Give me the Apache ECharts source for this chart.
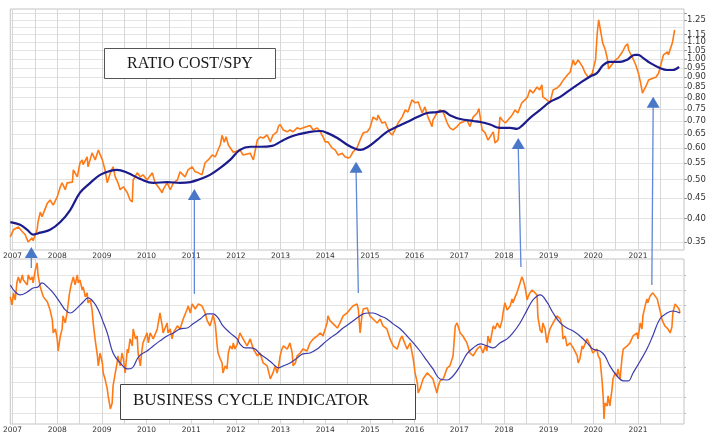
<!DOCTYPE html>
<html><head><meta charset="utf-8">
<script src="https://cdn.jsdelivr.net/npm/echarts@6/dist/echarts.min.js"></script>
<style>html,body{margin:0;padding:0;background:#fff}#c{width:720px;height:446px}</style>
</head><body><div id="c"></div>
<script>
// ---- Top panel: COST/SPY ratio (daily, orange) ----
const ratioYears=[2006.95,2007.02,2007.13,2007.22,2007.28,2007.35,2007.44,2007.46,2007.55,2007.57,2007.62,2007.66,2007.69,2007.78,2007.84,2007.91,2008.00,2008.07,2008.11,2008.18,2008.22,2008.34,2008.36,2008.45,2008.51,2008.56,2008.58,2008.67,2008.69,2008.78,2008.85,2008.92,2009.01,2009.07,2009.12,2009.19,2009.25,2009.30,2009.36,2009.41,2009.48,2009.57,2009.63,2009.68,2009.70,2009.79,2009.86,2009.92,2010.01,2010.13,2010.19,2010.26,2010.35,2010.37,2010.46,2010.53,2010.60,2010.69,2010.75,2010.86,2010.93,2011.02,2011.09,2011.16,2011.24,2011.31,2011.38,2011.47,2011.54,2011.60,2011.65,2011.69,2011.74,2011.78,2011.83,2011.94,2012.09,2012.16,2012.32,2012.39,2012.48,2012.54,2012.61,2012.70,2012.77,2012.83,2012.92,2012.95,2012.99,2013.06,2013.15,2013.21,2013.28,2013.37,2013.44,2013.50,2013.59,2013.66,2013.73,2013.82,2013.89,2013.95,2014.00,2014.06,2014.15,2014.22,2014.29,2014.38,2014.44,2014.51,2014.56,2014.62,2014.71,2014.78,2014.85,2014.94,2015.00,2015.07,2015.16,2015.18,2015.27,2015.34,2015.38,2015.45,2015.50,2015.56,2015.63,2015.72,2015.79,2015.85,2015.94,2016.01,2016.08,2016.12,2016.17,2016.23,2016.30,2016.39,2016.41,2016.50,2016.57,2016.64,2016.73,2016.79,2016.86,2016.95,2017.02,2017.08,2017.17,2017.24,2017.31,2017.40,2017.44,2017.47,2017.51,2017.58,2017.64,2017.69,2017.76,2017.80,2017.87,2017.91,2017.96,2018.03,2018.09,2018.18,2018.25,2018.31,2018.40,2018.47,2018.53,2018.58,2018.65,2018.74,2018.80,2018.85,2018.87,2018.96,2019.03,2019.10,2019.19,2019.26,2019.33,2019.42,2019.48,2019.55,2019.59,2019.66,2019.76,2019.82,2019.89,2019.98,2020.01,2020.05,2020.09,2020.12,2020.16,2020.21,2020.27,2020.32,2020.34,2020.43,2020.50,2020.56,2020.65,2020.72,2020.77,2020.79,2020.88,2020.95,2021.01,2021.06,2021.10,2021.13,2021.17,2021.24,2021.33,2021.40,2021.46,2021.51,2021.57,2021.66,2021.68,2021.77,2021.82];
const ratioValues=[0.360,0.375,0.381,0.371,0.365,0.350,0.358,0.352,0.375,0.392,0.415,0.404,0.412,0.437,0.445,0.432,0.453,0.480,0.491,0.472,0.491,0.493,0.529,0.508,0.551,0.560,0.545,0.570,0.538,0.583,0.560,0.593,0.560,0.529,0.491,0.520,0.538,0.508,0.491,0.472,0.480,0.464,0.445,0.440,0.499,0.520,0.508,0.514,0.499,0.520,0.491,0.480,0.464,0.472,0.491,0.472,0.491,0.499,0.523,0.508,0.529,0.538,0.523,0.520,0.514,0.551,0.560,0.576,0.570,0.593,0.610,0.645,0.620,0.640,0.610,0.585,0.593,0.576,0.582,0.560,0.628,0.639,0.635,0.646,0.621,0.646,0.658,0.678,0.686,0.665,0.658,0.665,0.658,0.673,0.669,0.673,0.678,0.682,0.665,0.673,0.658,0.639,0.621,0.621,0.600,0.593,0.576,0.582,0.570,0.566,0.570,0.586,0.600,0.628,0.654,0.658,0.673,0.716,0.704,0.724,0.692,0.696,0.678,0.654,0.646,0.665,0.692,0.716,0.746,0.737,0.790,0.777,0.781,0.759,0.733,0.759,0.716,0.678,0.704,0.733,0.746,0.737,0.692,0.673,0.665,0.678,0.692,0.696,0.704,0.678,0.716,0.733,0.752,0.746,0.665,0.654,0.628,0.639,0.658,0.617,0.628,0.716,0.704,0.692,0.704,0.724,0.746,0.733,0.777,0.790,0.804,0.837,0.822,0.851,0.837,0.861,0.804,0.790,0.777,0.837,0.846,0.861,0.886,0.912,0.926,0.994,0.965,0.994,0.955,0.921,0.900,0.921,0.955,0.994,1.165,1.250,1.180,1.096,1.052,0.994,0.944,0.972,0.994,1.006,1.040,1.077,1.090,1.052,1.006,0.965,0.921,0.870,0.822,0.813,0.851,0.886,0.895,0.900,0.921,0.965,1.023,1.040,1.023,1.096,1.180];
// moving average (navy)
const ratioMaYears=[2006.95,2007.17,2007.33,2007.46,2007.62,2007.84,2008.07,2008.29,2008.51,2008.74,2008.96,2009.19,2009.34,2009.57,2009.86,2010.15,2010.46,2010.75,2010.98,2011.20,2011.42,2011.65,2011.87,2012.09,2012.32,2012.54,2012.81,2012.99,2013.21,2013.44,2013.66,2013.89,2014.04,2014.27,2014.49,2014.67,2014.78,2014.96,2015.16,2015.38,2015.61,2015.83,2016.06,2016.28,2016.50,2016.64,2016.79,2017.02,2017.31,2017.47,2017.69,2017.91,2018.14,2018.29,2018.43,2018.58,2018.81,2019.03,2019.26,2019.48,2019.70,2019.93,2020.08,2020.22,2020.37,2020.60,2020.75,2020.93,2021.00,2021.11,2021.27,2021.49,2021.65,2021.78,2021.92];
const ratioMaValues=[0.392,0.386,0.375,0.365,0.369,0.375,0.392,0.420,0.464,0.491,0.514,0.526,0.529,0.520,0.502,0.491,0.493,0.491,0.493,0.502,0.514,0.535,0.560,0.593,0.604,0.604,0.607,0.621,0.639,0.650,0.658,0.661,0.654,0.635,0.611,0.597,0.593,0.604,0.628,0.658,0.678,0.696,0.716,0.733,0.737,0.741,0.724,0.708,0.700,0.696,0.686,0.673,0.673,0.669,0.686,0.712,0.746,0.781,0.804,0.837,0.870,0.904,0.921,0.965,0.983,0.983,0.994,1.023,1.023,1.006,0.977,0.949,0.938,0.938,0.955];

// ---- Bottom panel: business cycle indicator (grid units) ----
const bciYears=[2006.95,2006.99,2007.02,2007.06,2007.10,2007.13,2007.17,2007.22,2007.24,2007.33,2007.35,2007.40,2007.44,2007.46,2007.51,2007.55,2007.57,2007.62,2007.69,2007.78,2007.84,2007.89,2007.91,2007.96,2008.00,2008.02,2008.07,2008.11,2008.13,2008.18,2008.22,2008.27,2008.31,2008.36,2008.40,2008.45,2008.47,2008.51,2008.56,2008.58,2008.63,2008.67,2008.69,2008.74,2008.78,2008.81,2008.85,2008.90,2008.92,2008.96,2009.01,2009.03,2009.07,2009.12,2009.14,2009.19,2009.23,2009.25,2009.30,2009.34,2009.36,2009.41,2009.45,2009.48,2009.52,2009.57,2009.59,2009.63,2009.68,2009.70,2009.75,2009.79,2009.81,2009.86,2009.90,2009.92,2010.01,2010.04,2010.08,2010.15,2010.24,2010.30,2010.35,2010.37,2010.46,2010.48,2010.53,2010.57,2010.60,2010.69,2010.75,2010.82,2010.91,2010.93,2010.98,2011.02,2011.09,2011.16,2011.24,2011.31,2011.36,2011.38,2011.42,2011.49,2011.54,2011.58,2011.60,2011.65,2011.69,2011.71,2011.76,2011.80,2011.83,2011.87,2011.92,2011.94,2011.98,2012.03,2012.09,2012.16,2012.25,2012.32,2012.39,2012.48,2012.54,2012.61,2012.70,2012.77,2012.83,2012.88,2012.92,2012.95,2012.99,2013.03,2013.06,2013.15,2013.21,2013.26,2013.28,2013.33,2013.37,2013.44,2013.50,2013.59,2013.66,2013.73,2013.82,2013.89,2013.95,2014.04,2014.06,2014.11,2014.18,2014.27,2014.33,2014.40,2014.49,2014.56,2014.62,2014.71,2014.74,2014.78,2014.82,2014.85,2014.94,2015.00,2015.07,2015.16,2015.23,2015.29,2015.38,2015.45,2015.52,2015.61,2015.68,2015.72,2015.74,2015.83,2015.90,2015.97,2016.01,2016.06,2016.08,2016.12,2016.19,2016.28,2016.35,2016.41,2016.50,2016.53,2016.57,2016.64,2016.73,2016.79,2016.86,2016.91,2016.95,2017.02,2017.08,2017.17,2017.24,2017.31,2017.40,2017.47,2017.53,2017.58,2017.62,2017.64,2017.69,2017.76,2017.80,2017.85,2017.91,2017.96,2017.98,2018.02,2018.07,2018.14,2018.18,2018.20,2018.25,2018.29,2018.31,2018.36,2018.40,2018.43,2018.47,2018.52,2018.54,2018.58,2018.63,2018.65,2018.74,2018.76,2018.81,2018.85,2018.87,2018.92,2018.96,2018.99,2019.03,2019.10,2019.19,2019.26,2019.30,2019.32,2019.37,2019.41,2019.48,2019.55,2019.64,2019.66,2019.70,2019.75,2019.77,2019.86,2019.93,2019.99,2020.08,2020.11,2020.15,2020.20,2020.22,2020.24,2020.26,2020.31,2020.33,2020.37,2020.42,2020.44,2020.49,2020.53,2020.55,2020.60,2020.64,2020.67,2020.76,2020.82,2020.89,2020.98,2021.00,2021.05,2021.09,2021.11,2021.16,2021.20,2021.22,2021.27,2021.33,2021.43,2021.49,2021.54,2021.60,2021.67,2021.72,2021.76,2021.78,2021.83,2021.87,2021.92,2021.94];
const bciValues=[8.57,8.04,8.83,8.37,9.55,9.87,9.48,10.00,9.68,9.35,10.00,9.68,9.87,9.48,10.33,10.78,10.00,9.22,8.57,8.24,7.72,7.07,6.22,6.48,5.83,5.04,6.02,6.48,7.33,6.87,7.52,8.70,9.35,9.87,9.35,10.00,9.48,9.68,9.02,9.22,8.57,8.83,8.18,8.37,7.72,6.74,5.76,4.72,4.07,4.91,4.26,3.61,3.22,2.57,2.11,1.26,1.65,2.76,3.61,4.26,4.72,4.07,4.91,4.52,3.61,5.17,4.91,5.83,5.37,6.48,5.83,6.02,4.91,4.07,5.17,5.57,6.22,5.57,6.22,5.83,6.48,7.52,6.68,6.22,6.87,6.22,6.48,5.83,6.22,6.68,6.48,7.13,7.78,7.98,7.52,8.11,7.78,8.11,7.98,7.52,7.00,7.13,6.68,7.39,6.74,5.37,4.91,4.52,4.26,3.61,4.07,3.87,4.91,5.37,5.17,5.57,5.17,5.50,6.22,5.83,5.37,5.83,5.17,4.72,4.91,4.26,4.07,3.22,3.61,4.07,3.61,3.94,4.72,5.17,5.37,5.17,5.57,4.91,4.07,4.26,4.72,4.91,5.17,5.04,5.57,5.83,6.02,6.22,6.02,6.87,7.33,7.00,6.81,6.54,6.87,7.33,7.52,7.78,7.98,8.11,7.78,6.22,7.33,7.78,7.85,7.33,7.13,6.87,7.13,6.68,6.48,5.83,5.37,5.17,5.83,6.02,5.83,5.17,5.57,4.52,3.61,2.96,2.30,2.57,3.22,3.61,3.41,3.22,2.30,2.76,3.09,3.22,3.94,4.07,4.72,6.68,6.87,6.22,6.02,5.57,4.91,4.72,5.17,5.37,4.91,5.37,5.04,6.02,5.57,6.68,6.48,6.87,6.54,7.07,7.52,8.18,7.72,7.98,8.44,8.18,8.57,8.83,9.02,9.48,9.87,9.68,9.22,8.37,8.57,8.83,9.02,8.89,8.70,7.26,6.41,6.22,6.87,6.48,5.57,6.02,6.48,6.87,7.33,7.13,6.68,5.83,6.02,5.37,5.57,5.24,4.72,4.26,4.52,5.37,5.17,5.83,5.37,4.91,5.17,4.72,4.52,2.96,2.11,0.61,1.65,1.46,2.11,1.46,2.57,3.22,3.61,3.41,3.87,3.22,4.52,5.17,5.37,5.57,6.02,6.22,5.83,6.87,6.48,7.33,7.98,8.44,8.18,8.63,8.83,8.44,7.72,7.07,6.68,6.48,6.22,6.61,7.52,8.11,8.18,7.78,7.52];
const bciMaYears=[2006.95,2007.06,2007.17,2007.33,2007.46,2007.57,2007.66,2007.78,2007.91,2008.07,2008.18,2008.29,2008.45,2008.58,2008.69,2008.81,2008.92,2009.01,2009.12,2009.25,2009.41,2009.57,2009.68,2009.79,2009.86,2010.01,2010.15,2010.30,2010.46,2010.60,2010.75,2010.91,2011.04,2011.20,2011.36,2011.49,2011.60,2011.71,2011.87,2012.03,2012.09,2012.21,2012.32,2012.43,2012.54,2012.70,2012.83,2012.95,2013.06,2013.21,2013.37,2013.50,2013.66,2013.82,2013.95,2014.11,2014.27,2014.40,2014.56,2014.71,2014.85,2014.96,2015.07,2015.23,2015.38,2015.52,2015.68,2015.83,2015.97,2016.12,2016.28,2016.41,2016.57,2016.73,2016.86,2017.02,2017.17,2017.31,2017.47,2017.62,2017.76,2017.91,2018.07,2018.20,2018.36,2018.52,2018.65,2018.81,2018.96,2019.10,2019.26,2019.41,2019.55,2019.70,2019.86,2019.99,2020.15,2020.26,2020.37,2020.53,2020.67,2020.78,2020.89,2021.05,2021.20,2021.33,2021.49,2021.65,2021.78,2021.94];
const bciMaValues=[9.35,8.89,8.70,8.89,9.15,9.22,9.48,9.22,8.83,8.18,7.72,7.52,7.85,8.24,8.50,8.24,7.72,7.07,6.22,4.91,4.26,3.87,3.94,4.52,4.78,5.04,5.37,5.70,6.02,6.22,6.48,6.54,6.81,7.13,7.46,7.46,7.20,6.68,6.22,5.83,5.50,5.24,5.24,5.17,4.85,4.52,4.20,3.94,4.07,4.26,4.59,4.85,4.91,5.17,5.50,5.89,6.22,6.54,6.87,7.20,7.46,7.52,7.52,7.33,7.13,6.81,6.48,6.02,5.57,5.04,4.39,3.87,3.22,3.15,3.41,4.07,4.85,5.24,5.50,5.37,5.24,5.57,5.83,6.22,6.87,7.72,8.37,8.70,8.24,7.52,6.87,6.54,6.35,6.02,5.57,5.17,5.04,4.72,4.07,3.41,3.09,3.09,3.61,4.39,5.17,6.02,7.13,7.52,7.65,7.52];

// ---- axis ticks / labels ----
const yearLabels=[2007,2008,2009,2010,2011,2012,2013,2014,2015,2016,2017,2018,2019,2020,2021];
const halfYearLines=[2007,2007.5,2008,2008.5,2009,2009.5,2010,2010.5,2011,2011.5,2012,2012.5,2013,2013.5,2014,2014.5,2015,2015.5,2016,2016.5,2017,2017.5,2018,2018.5,2019,2019.5,2020,2020.5,2021,2021.5];
const ratioLabels=[0.35,0.40,0.45,0.50,0.55,0.60,0.65,0.70,0.75,0.80,0.85,0.90,0.95,1.00,1.05,1.10,1.15,1.20,1.25];
const ratioLines=[0.35,0.40,0.45,0.50,0.55,0.60,0.65,0.70,0.75,0.80,0.85,0.90,0.95,1.00,1.05,1.10,1.15,1.20,1.25,1.30];
const bciLines=[1,2,3,4,5,6,7,8,9,10];

// arrows: [year, ratio value at tip (top panel), year at foot, indicator value at foot]
const arrowYears=[2007.42,2011.07,2014.69,2018.32,2021.34];
const arrowTipRatio=[0.340,0.474,0.554,0.635,0.804];
const arrowFootYears=[2007.42,2011.07,2014.74,2018.38,2021.31];
const arrowFootBci=[10.46,8.76,8.83,10.52,9.35];

const zip=(a,b)=>a.map((v,i)=>[v,b[i]]);
const chart=echarts.init(document.getElementById('c'),null,{renderer:'canvas'});
const lblFont='DejaVu Sans';
function xAxisCfg(idx){
  return {type:'value',gridIndex:idx,min:2006.95,max:2022.03,
    axisLine:{show:false},
    axisTick:{show:false,customValues:halfYearLines},
    splitLine:{show:true,lineStyle:{color:'#d6d6d6',width:1}},
    axisLabel:{customValues:yearLabels,formatter:v=>String(Math.round(v)),fontFamily:lblFont,fontSize:7.5,color:'#333',margin:2}};
}
chart.setOption({
  animation:false,
  backgroundColor:'#fff',
  grid:[
    {left:10,right:36,top:9,height:241,show:true,borderColor:'#c4c4c4',borderWidth:1,backgroundColor:'#fff'},
    {left:10,right:36,top:259,height:165,show:true,borderColor:'#c4c4c4',borderWidth:1,backgroundColor:'#fff'}
  ],
  xAxis:[xAxisCfg(0),xAxisCfg(1)],
  yAxis:[
    {type:'log',gridIndex:0,position:'right',min:0.334,max:1.331,
      axisLine:{show:false},
      axisTick:{show:true,customValues:ratioLines,length:3,lineStyle:{color:'#999'}},
      splitLine:{show:true,lineStyle:{color:'#e4e4e4'}},
      axisLabel:{customValues:ratioLabels,formatter:v=>v.toFixed(2),fontFamily:lblFont,fontSize:8.5,lineHeight:8,color:'#333',margin:3,showMinLabel:true,showMaxLabel:true,hideOverlap:false}},
    {type:'value',gridIndex:1,position:'right',min:0.28,max:11.04,
      axisLine:{show:false},
      axisTick:{show:true,customValues:bciLines,length:2,lineStyle:{color:'#bbb'}},
      splitLine:{show:true,lineStyle:{color:'#e4e4e4'}},
      axisLabel:{show:false}}
  ],
  series:[
    {type:'line',xAxisIndex:0,yAxisIndex:0,data:zip(ratioYears,ratioValues),showSymbol:false,
      lineStyle:{color:'#ff7a14',width:1.6},z:3},
    {type:'line',xAxisIndex:0,yAxisIndex:0,data:zip(ratioMaYears,ratioMaValues),showSymbol:false,smooth:0.4,
      lineStyle:{color:'#1b1b8c',width:2.2},z:4},
    {type:'line',xAxisIndex:1,yAxisIndex:1,data:zip(bciYears,bciValues),showSymbol:false,
      lineStyle:{color:'#ff7a14',width:1.6},z:3},
    {type:'line',xAxisIndex:1,yAxisIndex:1,data:zip(bciMaYears,bciMaValues),showSymbol:false,smooth:0.4,
      lineStyle:{color:'#3b3bab',width:1.2},z:4}
  ]
});

// annotations
const g=[];
arrowYears.forEach((yr,i)=>{
  const tip=chart.convertToPixel({gridIndex:0},[yr,arrowTipRatio[i]]);
  const foot=chart.convertToPixel({gridIndex:1},[arrowFootYears[i],arrowFootBci[i]]);
  g.push({type:'line',z:50,shape:{x1:tip[0],y1:tip[1]+10,x2:foot[0],y2:foot[1]},style:{stroke:'#6088d4',lineWidth:1.3}});
  g.push({type:'polygon',z:51,shape:{points:[[tip[0],tip[1]],[tip[0]-6.5,tip[1]+11],[tip[0]+6.5,tip[1]+11]]},style:{fill:'#4a78c8'}});
});
g.push({type:'group',z:60,children:[
  {type:'rect',shape:{x:104.5,y:48.5,width:171,height:30},style:{fill:'#fff',stroke:'#555',lineWidth:1}},
  {type:'text',style:{x:190,y:64,text:'RATIO COST/SPY',fontFamily:'Liberation Serif',fontSize:16,fill:'#1a1a1a',align:'center',verticalAlign:'middle'}}
]});
g.push({type:'group',z:60,children:[
  {type:'rect',shape:{x:120.5,y:384.5,width:295,height:35},style:{fill:'#fff',stroke:'#444',lineWidth:1}},
  {type:'text',style:{x:133,y:401,text:'BUSINESS CYCLE INDICATOR',fontFamily:'Liberation Serif',fontSize:17,fill:'#1a1a1a',align:'left',verticalAlign:'middle'}}
]});
chart.setOption({graphic:g});
</script></body></html>
